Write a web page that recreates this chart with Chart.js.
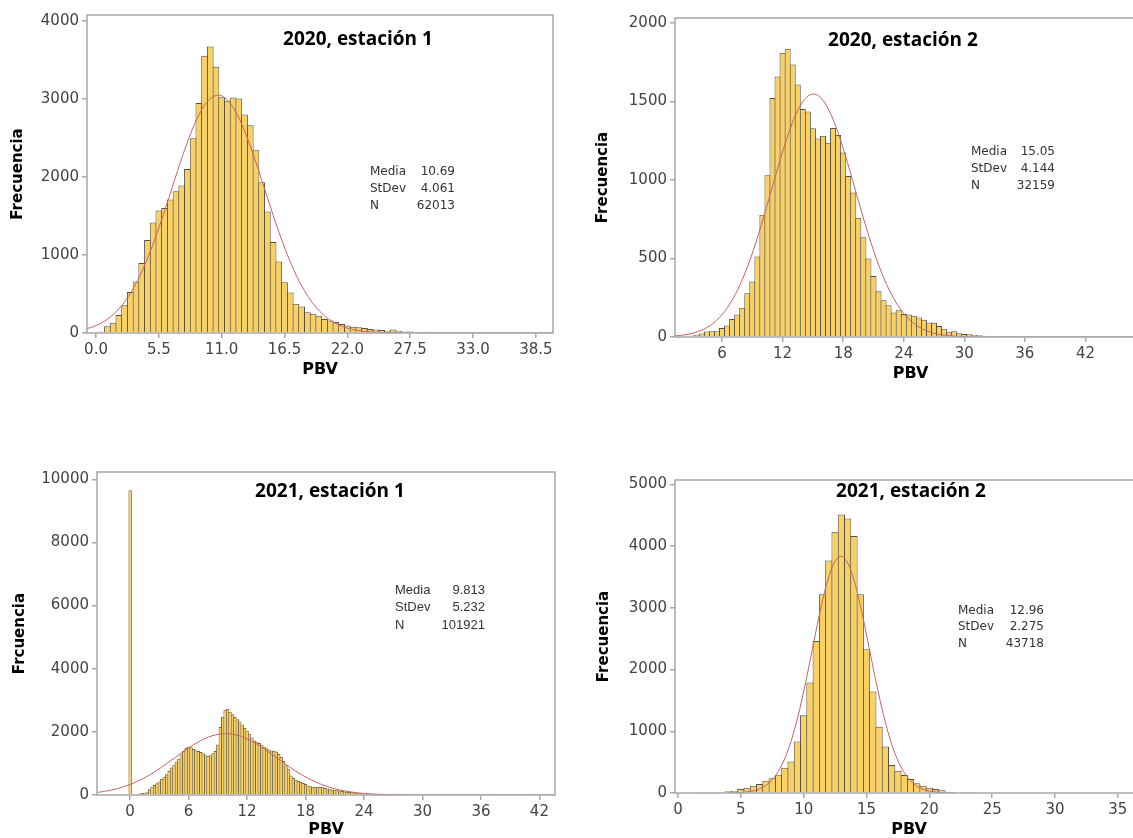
<!DOCTYPE html>
<html>
<head>
<meta charset="utf-8">
<script src="https://cdn.jsdelivr.net/npm/chart.js@4.4.1/dist/chart.umd.min.js"></script>
<style>
  html, body { margin: 0; padding: 0; background: #fff; overflow: hidden; width: 1133px; height: 838px; position: relative; }
  canvas { position: absolute; }
</style>
</head>
<body>
<canvas id="c1" width="570" height="383" style="left:0px;top:0px"></canvas>
<canvas id="c2" width="561" height="387" style="left:585px;top:0px"></canvas>
<canvas id="c3" width="570" height="388" style="left:0px;top:455px"></canvas>
<canvas id="c4" width="558" height="388" style="left:585px;top:455px"></canvas>
<script>
// values (bin centres = start + i * width)
const statLabels = ['Media', 'StDev', 'N'];

// 2020, estacion 1
const binStart1 = 0.5;
const binWidth1 = 0.5;
const freq1 = [20, 85, 130, 230, 355, 525, 660, 895, 1190, 1415,
    1570, 1600, 1710, 1815, 1890, 2100, 2495, 2945, 3550, 3670,
    3410, 3020, 2975, 3015, 3005, 2800, 2660, 2340, 1930, 1555,
    1165, 915, 650, 520, 375, 340, 265, 245, 220, 180,
    160, 140, 115, 95, 80, 75, 65, 50, 45, 40,
    30, 45, 30, 20, 18, 12, 10, 15, 8, 5,
    4, 3, 2];
const curveX1 = [-1.493, -0.475, 0.538, 1.553, 2.568, 3.583, 4.599, 5.614, 6.629, 7.644, 8.66, 9.675, 10.69,
    11.705, 12.72, 13.736, 14.751, 15.766, 16.781, 17.797, 18.812, 19.827, 20.843, 21.858, 22.873, 24.904, 26.934, 28.965, 41];
const curveY1 = [33.8, 69.4, 133.7, 242.5, 412.1, 658.9, 989, 1394.5, 1847.4, 2299.1, 2688.1, 2952.2, 3046,
    2952.2, 2688.1, 2299.1, 1847.4, 1394.5, 989, 658.9, 412.1, 242.5, 133.7, 69.4, 33.8, 6.7, 1, 0.1, 0];
const xTicks1 = [0, 5.5, 11, 16.5, 22, 27.5, 33, 38.5];
const yTicks1 = [0, 1000, 2000, 3000, 4000];
const stats1 = ['10.69', '4.061', '62013'];

// 2020, estacion 2
const binStart2 = 1.5;
const binWidth2 = 0.5;
const freq2 = [4, 6, 8, 10, 14, 22, 35, 36, 36, 58,
    73, 115, 143, 186, 278, 353, 513, 778, 1030, 1522,
    1660, 1810, 1836, 1736, 1608, 1453, 1436, 1330, 1265, 1282,
    1238, 1331, 1286, 1176, 1025, 920, 760, 636, 500, 388,
    292, 234, 202, 156, 171, 146, 143, 135, 125, 110,
    92, 91, 70, 52, 30, 36, 24, 19, 17, 13,
    11, 8, 6, 4, 4, 2, 2];
const curveX2 = [0.546, 2.618, 3.654, 4.69, 5.726, 6.762, 7.798, 8.834, 9.87, 10.906, 11.942, 12.978, 14.014, 15.05,
    16.086, 17.122, 18.158, 19.194, 20.23, 21.266, 22.302, 23.338, 24.374, 25.41, 26.446, 27.482, 29.554, 31.626, 49];
const curveY2 = [3.4, 17.2, 35.3, 68, 123.2, 209.4, 334.8, 502.6, 708.7, 938.9, 1168.4, 1366.1, 1500.3, 1548,
    1500.3, 1366.1, 1168.4, 938.9, 708.7, 502.6, 334.8, 209.4, 123.2, 68, 35.3, 17.2, 3.4, 0.5, 0];
const xTicks2 = [6, 12, 18, 24, 30, 36, 42];
const yTicks2 = [0, 500, 1000, 1500, 2000];
const stats2 = ['15.05', '4.144', '32159'];

// 2021, estacion 1
const binStart3 = 0;
const binWidth3 = 0.25;
const freq3 = [9650,
    5, 25, 35, 45, 60, 75, 90, 180,
    260, 320, 370, 430, 510, 580, 660, 760, 870, 960,
    1060, 1150, 1280, 1400, 1490, 1530, 1510, 1460, 1420, 1390,
    1360, 1320, 1260, 1240, 1260, 1320, 1390, 1600, 2150, 2480,
    2700, 2730, 2640, 2560, 2470, 2400, 2330, 2230, 2120, 2040,
    1940, 1820, 1730, 1690, 1650, 1590, 1530, 1480, 1440, 1410,
    1400, 1380, 1300, 1200, 1080, 940, 830, 620, 540, 480,
    440, 410, 380, 350, 300, 280, 265, 265, 260, 255,
    245, 225, 205, 185, 175, 165, 150, 140, 125, 110,
    100, 95, 90, 80, 70, 60, 50, 40, 35, 30, 25, 20,
    16, 13, 11, 9, 7, 6, 5, 4, 3, 2, 2, 1];
const curveX3 = [-5.883, -4.575, -3.267, -1.959, -0.651, 0.657, 1.965, 3.273, 4.581, 5.889, 7.197, 8.505, 9.813,
    11.121, 12.429, 13.737, 15.045, 16.353, 17.661, 18.969, 20.277, 21.585, 22.893, 24.201, 25.509, 28.125, 30.741, 45];
const curveY3 = [21.6, 44.3, 85.3, 154.7, 262.9, 420.3, 630.9, 889.5, 1178.4, 1466.6, 1714.7, 1883.2, 1943,
    1883.2, 1714.7, 1466.6, 1178.4, 889.5, 630.9, 420.3, 262.9, 154.7, 85.3, 44.3, 21.6, 4.3, 0.65, 0];
const xTicks3 = [0, 6, 12, 18, 24, 30, 36, 42];
const yTicks3 = [0, 2000, 4000, 6000, 8000, 10000];
const stats3 = ['9.813', '5.232', '101921'];

// 2021, estacion 2
const binStart4 = 2;
const binWidth4 = 0.5;
const freq4 = [5, 8, 10, 16, 27, 38, 65, 86, 119, 146,
    199, 237, 296, 410, 512, 836, 1261, 1790, 2464, 3218,
    3768, 4232, 4512, 4447, 4162, 3218, 2329, 1644, 1073, 755,
    453, 361, 291, 226, 156, 119, 86, 65, 43, 22,
    16, 10, 5, 6];
const curveX4 = [3.86, 4.998, 6.135, 6.704, 7.273, 7.841, 8.41, 8.979, 9.548, 10.116, 10.685, 11.254, 11.823, 12.391, 12.96,
    13.529, 14.098, 14.666, 15.235, 15.804, 16.373, 16.941, 17.51, 18.079, 18.648, 19.216, 19.785, 20.923, 22.06];
const curveY4 = [1.3, 8.4, 42.5, 87.4, 168.3, 305.1, 518.6, 829.1, 1244.6, 1754.7, 2324.7, 2893.1, 3382.6, 3714.9, 3833,
    3714.9, 3382.6, 2893.1, 2324.7, 1754.7, 1244.6, 829.1, 518.6, 305.1, 168.3, 87.4, 42.5, 8.4, 1.3];
const xTicks4 = [0, 5, 10, 15, 20, 25, 30, 35];
const yTicks4 = [0, 1000, 2000, 3000, 4000, 5000];
const stats4 = ['12.96', '2.275', '43718'];

Chart.defaults.font.family = 'DejaVu Sans';
Chart.defaults.color = '#444';

// frame, title and the Media/StDev/N block
const panelExtras = {
    id: 'panelExtras',
    afterDraw(chart, args, o) {
        const ctx = chart.ctx;
        const a = chart.chartArea;
        ctx.save();
        ctx.strokeStyle = '#a8a8a8';
        ctx.lineWidth = 1.5;
        ctx.strokeRect(a.left, a.top, a.right - a.left, a.bottom - a.top);

        ctx.fillStyle = '#000';
        ctx.font = 'bold 19px "Open Sans"';
        ctx.textAlign = 'center';
        ctx.textBaseline = 'middle';
        ctx.fillText(o.title, o.titleX, o.titleY);

        ctx.font = o.statFont;
        ctx.fillStyle = '#333';
        for (let i = 0; i < 3; i++) {
            const y = o.statY + i * o.statGap;
            ctx.textAlign = 'left';
            ctx.fillText(statLabels[i], o.statX, y);
            ctx.textAlign = 'right';
            ctx.fillText(o.stats[i], o.statRight, y);
        }
        ctx.restore();
    }
};

function makePanel(id, p) {
    const canvas = document.getElementById(id);
    const plotW = canvas.width - p.padRight - p.yW;
    const barPx = p.binW * plotW / (p.xMax - p.xMin);
    const bars = p.freq.map((f, i) => ({ x: p.binStart + i * p.binW, y: f }));
    const curve = p.curveX.map((x, i) => ({ x: x, y: p.curveY[i] }));

    return new Chart(canvas, {
        type: 'bar',
        data: {
            datasets: [{
                type: 'line',
                data: curve,
                borderColor: 'rgb(196, 100, 100)',
                borderWidth: 1,
                pointRadius: 0,
                cubicInterpolationMode: 'monotone',
                order: 1
            }, {
                type: 'bar',
                data: bars,
                backgroundColor: '#FAD05F',
                borderColor: p.barEdge,
                borderWidth: 1,
                barPercentage: 1 + 1 / barPx,
                categoryPercentage: 1,
                order: 2
            }]
        },
        options: {
            responsive: false,
            animation: false,
            devicePixelRatio: 1,
            layout: { padding: { left: 0, top: p.padTop, right: p.padRight, bottom: 0 } },
            plugins: {
                legend: { display: false },
                tooltip: { enabled: false },
                panelExtras: {
                    title: p.title, titleX: p.titleX, titleY: p.titleY,
                    stats: p.stats, statX: p.statX, statRight: p.statRight,
                    statY: p.statY, statGap: p.statGap, statFont: p.statFont
                }
            },
            scales: {
                x: {
                    type: 'linear',
                    offset: false,
                    min: p.xMin,
                    max: p.xMax,
                    afterBuildTicks: (s) => { s.ticks = p.xTicks.map(v => ({ value: v })); },
                    afterFit: (s) => { s.height = p.xH; },
                    ticks: {
                        autoSkip: false,
                        maxRotation: 0,
                        padding: 3,
                        font: { size: 15 },
                        color: '#444',
                        callback: p.xFmt
                    },
                    grid: { offset: false, drawOnChartArea: false, drawTicks: true, tickLength: 5, color: '#a8a8a8', lineWidth: 1.5 },
                    border: { display: false },
                    title: {
                        display: true, text: 'PBV', color: '#000',
                        font: { size: 16, weight: 'bold' },
                        padding: { top: 0, bottom: 4 }
                    }
                },
                y: {
                    min: 0,
                    max: p.yMax,
                    afterBuildTicks: (s) => { s.ticks = p.yTicks.map(v => ({ value: v })); },
                    afterFit: (s) => { s.width = p.yW; },
                    ticks: { padding: 3, font: { size: 15 }, color: '#444', callback: (v) => String(v) },
                    grid: { drawOnChartArea: false, drawTicks: true, tickLength: 5, color: '#a8a8a8', lineWidth: 1.5 },
                    border: { display: false },
                    title: {
                        display: true, text: p.yTitle, color: '#000',
                        font: { size: 15, weight: 'bold' },
                        padding: { top: p.yTitlePad, bottom: 0 }
                    }
                }
            }
        },
        plugins: [panelExtras]
    });
}

makePanel('c1', {
    freq: freq1, binStart: binStart1, binW: binWidth1, curveX: curveX1, curveY: curveY1,
    xTicks: xTicks1, yTicks: yTicks1, stats: stats1,
    xMin: -0.79, xMax: 40.0, yMax: 4073,
    xFmt: (v) => v.toFixed(1), barEdge: '#505050',
    yW: 87, xH: 50, padTop: 15, padRight: 17, yTitlePad: 9,
    yTitle: 'Frecuencia', title: '2020, estación 1', titleX: 358, titleY: 40,
    statX: 370, statRight: 455, statY: 172, statGap: 17, statFont: '12px "DejaVu Sans"'
});

makePanel('c2', {
    freq: freq2, binStart: binStart2, binW: binWidth2, curveX: curveX2, curveY: curveY2,
    xTicks: xTicks2, yTicks: yTicks2, stats: stats2,
    xMin: 1.34, xMax: 48, yMax: 2032,
    xFmt: (v) => String(v), barEdge: '#505050',
    yW: 90, xH: 50, padTop: 18, padRight: 0, yTitlePad: 9,
    yTitle: 'Frecuencia', title: '2020, estación 2', titleX: 318, titleY: 41,
    statX: 386, statRight: 470, statY: 152, statGap: 17, statFont: '12px "DejaVu Sans"'
});

makePanel('c3', {
    freq: freq3, binStart: binStart3, binW: binWidth3, curveX: curveX3, curveY: curveY3,
    xTicks: xTicks3, yTicks: yTicks3, stats: stats3,
    xMin: -3.4, xMax: 43.6, yMax: 10231,
    xFmt: (v) => String(v), barEdge: '#7a6a3a',
    yW: 97, xH: 48, padTop: 17, padRight: 15, yTitlePad: 11,
    yTitle: 'Frcuencia', title: '2021, estación 1', titleX: 330, titleY: 37,
    statX: 395, statRight: 485, statY: 135, statGap: 17.5, statFont: '13px "Liberation Sans"'
});

makePanel('c4', {
    freq: freq4, binStart: binStart4, binW: binWidth4, curveX: curveX4, curveY: curveY4,
    xTicks: xTicks4, yTicks: yTicks4, stats: stats4,
    xMin: -0.24, xMax: 37, yMax: 5070,
    xFmt: (v) => String(v), barEdge: '#505050',
    yW: 90, xH: 50, padTop: 25, padRight: 0, yTitlePad: 10,
    yTitle: 'Frecuencia', title: '2021, estación 2', titleX: 326, titleY: 37,
    statX: 373, statRight: 459, statY: 155.5, statGap: 16.5, statFont: '12px "DejaVu Sans"'
});
</script>
</body>
</html>
